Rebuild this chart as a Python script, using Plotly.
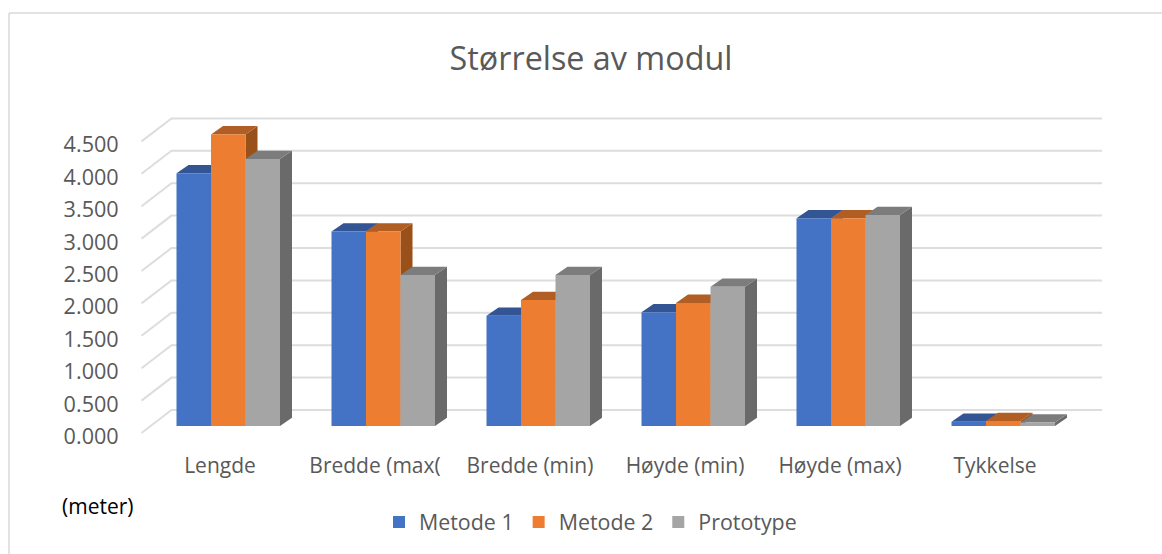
import plotly.graph_objects as go

categories = ["Lengde", "Bredde (max(", "Bredde (min)", "Høyde (min)", "Høyde (max)", "Tykkelse"]
metode_1 = [3.90, 3.00, 1.70, 1.755, 3.205, 0.066]
metode_2 = [4.50, 3.00, 1.945, 1.90, 3.205, 0.077]
prototype = [4.12, 2.33, 2.33, 2.15, 3.255, 0.055]
y_ticks = [0, 0.5, 1, 1.5, 2, 2.5, 3, 3.5, 4, 4.5]
y_tick_labels = ["0.000", "0.500", "1.000", "1.500", "2.000", "2.500", "3.000", "3.500", "4.000", "4.500"]
series_names = ["Metode 1", "Metode 2", "Prototype"]
series_values = [metode_1, metode_2, prototype]

FRONT = ["#4472C4", "#ED7D31", "#A5A5A5"]
TOP = ["#335593", "#B15E25", "#7C7C7C"]
SIDE = ["#2A4A85", "#9A5119", "#6A6A6A"]
TEXT = "#595959"
GRID = "#DDDDDD"
FONT = "Open Sans"

W, H = 1162, 554
L, R, T, B = 127, 1110, 100, 446           # plot box in pixels
PW, PH = R - L, B - T
UX, UY = 155.0, 64.8                       # pixels per category / per metre
BAR_X0, BAR_Y0 = 228.25, 426.0             # pixel of first group centre / front floor
LAB_X0, LAB_Y0 = 220.0, 436.5              # pixel of first category label / zero tick label
BAR_W = 34.5 / UX
DX, DY = 12.0 / UX, 8.3 / UY               # bar depth
WALL_LEFT = (141.5 - LAB_X0) / UX
WALL_DX = 30.0 / UX
WALL_END = (1102.0 - LAB_X0) / UX
WALL_FRONT_DY = 3.5 / UY                   # front-left wall corner relative to the tick label
WALL_BACK_DY = 26.5 / UY                   # back wall relative to the tick label


def xr(x0):
    return [(L - x0) / UX, (R - x0) / UX]


def yr(y0):
    return [(y0 - B) / UY, (y0 - T) / UY]


fig = go.Figure()

# wall gridlines
gx, gy = [], []
for v in y_ticks:
    gx += [WALL_LEFT, WALL_LEFT + WALL_DX, WALL_END, None]
    gy += [v + WALL_FRONT_DY, v + WALL_BACK_DY, v + WALL_BACK_DY, None]
fig.add_trace(go.Scatter(x=gx, y=gy, mode="lines", line=dict(color=GRID, width=2),
                         hoverinfo="skip", showlegend=False, xaxis="x", yaxis="y"))

# tops and sides of bars
for s, values in enumerate(series_values):
    tx, ty, sx, sy = [], [], [], []
    for c, v in enumerate(values):
        xl = c + (s - 1.5) * BAR_W
        xe = xl + BAR_W
        tx += [xl, xe, xe + DX, xl + DX, xl, None]
        ty += [v, v, v + DY, v + DY, v, None]
        sx += [xe, xe + DX, xe + DX, xe, xe, None]
        sy += [0, DY, v + DY, v, 0, None]
    fig.add_trace(go.Scatter(x=sx, y=sy, mode="lines", fill="toself", fillcolor=SIDE[s],
                             line=dict(width=0, color=SIDE[s]), hoverinfo="skip",
                             showlegend=False, xaxis="x2", yaxis="y2"))
    fig.add_trace(go.Scatter(x=tx, y=ty, mode="lines", fill="toself", fillcolor=TOP[s],
                             line=dict(width=0, color=TOP[s]), hoverinfo="skip",
                             showlegend=False, xaxis="x2", yaxis="y2"))

# front faces
for s, values in enumerate(series_values):
    fig.add_trace(go.Bar(x=list(range(len(categories))), y=values, name=series_names[s],
                         marker=dict(color=FRONT[s], line=dict(width=0)),
                         xaxis="x3", yaxis="y3"))

hidden = dict(visible=False, fixedrange=True)
fig.update_layout(
    width=W, height=H, autosize=False,
    margin=dict(l=L, r=W - R, t=T, b=H - B, pad=0),
    paper_bgcolor="white", plot_bgcolor="rgba(0,0,0,0)",
    barmode="group", bargap=1 - 3 * BAR_W, bargroupgap=0,
    font=dict(family=FONT, color=TEXT, size=19),
    title=dict(text="Størrelse av modul", x=591 / W, xanchor="center", y=1 - 59 / H, yanchor="middle",
               font=dict(family=FONT, size=32.3, color=TEXT)),
    xaxis=dict(range=xr(LAB_X0), tickmode="array", tickvals=list(range(len(categories))), ticktext=categories,
               showgrid=False, zeroline=False, showline=False, ticks="outside", ticklen=1,
               tickcolor="rgba(0,0,0,0)", tickfont=dict(family=FONT, size=21, color=TEXT), fixedrange=True),
    yaxis=dict(range=yr(LAB_Y0), tickmode="array", tickvals=y_ticks, ticktext=y_tick_labels,
               showgrid=False, zeroline=False, showline=False, ticks="outside", ticklen=3,
               tickcolor="rgba(0,0,0,0)", tickfont=dict(family=FONT, size=21.6, color=TEXT), fixedrange=True),
    xaxis2=dict(range=xr(BAR_X0), overlaying="x", **hidden),
    yaxis2=dict(range=yr(BAR_Y0), overlaying="y", **hidden),
    xaxis3=dict(range=xr(BAR_X0), overlaying="x", **hidden),
    yaxis3=dict(range=yr(BAR_Y0), overlaying="y", **hidden),
    legend=dict(orientation="h", x=(379 - L) / PW, xanchor="left", y=(B - 522) / PH, yanchor="middle",
                font=dict(family=FONT, size=21.4, color=TEXT), bgcolor="rgba(0,0,0,0)"),
    annotations=[dict(text="(meter)", xref="paper", yref="paper", x=(97 - L) / PW, y=(B - 506) / PH,
                      xanchor="center", yanchor="middle", showarrow=False,
                      font=dict(family=FONT, size=21, color="#000000"))],
    shapes=[
        dict(type="line", xref="paper", yref="paper", x0=(9 - L) / PW, x1=(W - L) / PW,
             y0=(B - 13) / PH, y1=(B - 13) / PH, line=dict(color="#D9D9D9", width=1.5)),
        dict(type="line", xref="paper", yref="paper", x0=(9 - L) / PW, x1=(9 - L) / PW,
             y0=(B - 13) / PH, y1=(B - H) / PH, line=dict(color="#D9D9D9", width=1.5)),
    ],
)

fig.write_html("out.html", config=dict(displayModeBar=False), post_script="document.body.style.margin='0';")
